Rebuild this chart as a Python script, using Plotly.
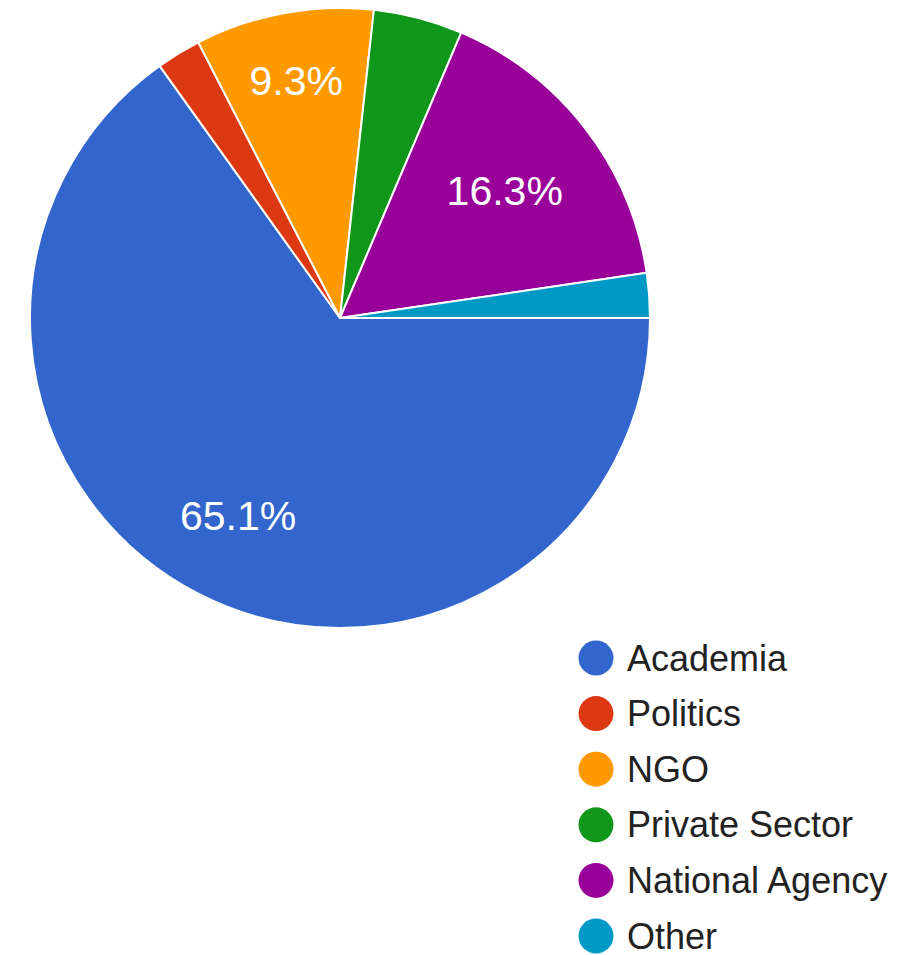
import math
import plotly.graph_objects as go

categories = ["Academia", "Politics", "NGO", "Private Sector", "National Agency", "Other"]
counts = [28, 1, 4, 2, 7, 1]
colors = ["#3366cc", "#dc3912", "#ff9900", "#109618", "#990099", "#0099c6"]

# page body has an 8px margin; size the figure to reach the window's edges
OFF = 8
FW, FH = 902 - OFF, 955 - OFF

total = sum(counts)
shares = [v / total for v in counts]
pct_text = [f"{s * 100:.1f}%" for s in shares]

FONT = "Liberation Sans, Arial, sans-serif"

# pie geometry (reference pixels)
CX, CY, R = 340, 318, 310

# largest slice label is placed further out (as in the reference) via an annotation
big = max(range(len(counts)), key=lambda i: counts[i])
slice_text = [t if (s >= 0.05 and i != big) else "" for i, (t, s) in enumerate(zip(pct_text, shares))]

fig = go.Figure()
fig.add_trace(go.Pie(
    labels=categories,
    values=counts,
    text=slice_text,
    textinfo="text",
    textposition="inside",
    insidetextorientation="horizontal",
    textfont=dict(family=FONT, size=41, color="white"),
    marker=dict(colors=colors, line=dict(color="white", width=2)),
    sort=False,
    direction="clockwise",
    rotation=90,
    showlegend=False,
    hoverinfo="label+percent",
    domain=dict(x=[(CX - R - OFF) / FW, (CX + R - OFF) / FW],
                y=[1 - (CY + R - OFF) / FH, 1 - (CY - R - OFF) / FH]),
))

# annotation for the largest slice at its mid-angle
cum_before = sum(shares[:big])
theta = 2 * math.pi * (cum_before + shares[big] / 2)  # clockwise from 3 o'clock
dist = 0.718 * R
ax_px = CX + dist * math.cos(theta)
ay_px = CY + dist * math.sin(theta)
annotations = [dict(
    x=(ax_px - OFF) / FW, y=1 - (ay_px - OFF) / FH, xref="paper", yref="paper",
    text=pct_text[big], showarrow=False, xanchor="center", yanchor="middle",
    font=dict(family=FONT, size=41, color="white"),
)]

# custom legend with round markers on a hidden axis (x in reference pixels, y in rows)
row_px0, row_step = 658, 55.6
units = FH / row_step
r0 = -(row_px0 - OFF) / row_step
fig.add_trace(go.Scatter(
    x=[596] * len(categories),
    y=list(range(len(categories))),
    mode="markers",
    marker=dict(size=35, color=colors, line=dict(width=0)),
    showlegend=False,
    hoverinfo="skip",
    cliponaxis=False,
))
for i, name in enumerate(categories):
    annotations.append(dict(
        x=625, y=i, xref="x", yref="y", text=name, showarrow=False,
        xanchor="left", yanchor="middle",
        font=dict(family=FONT, size=36, color="#222222"),
    ))

fig.update_layout(
    width=FW, height=FH,
    margin=dict(l=0, r=0, t=0, b=0),
    paper_bgcolor="white",
    plot_bgcolor="rgba(0,0,0,0)",
    xaxis=dict(range=[OFF, OFF + FW], domain=[0, 1], visible=False, fixedrange=True),
    yaxis=dict(range=[r0 + units, r0], domain=[0, 1], visible=False, fixedrange=True),
    showlegend=False,
    annotations=annotations,
)

fig.write_html("out.html")
